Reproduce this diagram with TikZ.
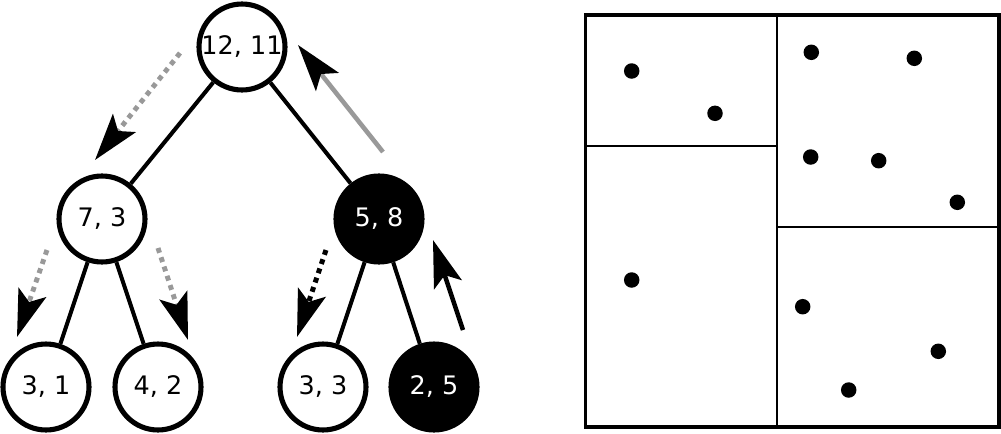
\documentclass[tikz,border=0pt]{standalone}
\usepackage{fontspec}
\setmainfont{DejaVu Sans}
\usetikzlibrary{arrows.meta}
\definecolor{trailgray}{HTML}{999999}
\begin{document}
\begin{tikzpicture}[x=0.02cm,y=-0.02cm,
  key/.style={circle,draw,line width=2.9pt,minimum size=1.72cm,inner sep=0pt,
    fill=white,font=\fontsize{14.5}{16}\selectfont},
  hot/.style={key,fill=black,text=white},
  edge/.style={line width=2.3pt},
  head/.style={-{Stealth[length=0.94cm,width=0.58cm,inset=0.2cm,color=black]}},
  walkdown/.style={head,line width=2.8pt,dash pattern=on 0.1cm off 0.095cm},
  walkup/.style={head,line width=2.6pt},
  dot/.style={circle,fill=black,inner sep=0pt,minimum size=0.31cm},
  cell/.style={line width=1.2pt}]
\useasboundingbox (0,0) rectangle (1001,433);

% tree of (count, sum) pairs
\node[key] (r)   at (242,47)  {12, 11};
\node[key] (l)   at (102,219) {7, 3};
\node[hot] (rt)  at (379,219) {5, 8};
\node[key] (ll)  at (46,387)  {3, 1};
\node[key] (lr)  at (158,387) {4, 2};
\node[key] (rl)  at (323,387) {3, 3};
\node[hot] (rr)  at (434,387) {2, 5};

\draw[edge] (r) -- (l);
\draw[edge] (r) -- (rt);
\draw[edge] (l) -- (ll);
\draw[edge] (l) -- (lr);
\draw[edge] (rt) -- (rl);
\draw[edge] (rt) -- (rr);

% traversal arrows
\coordinate (a1s) at (180,53);  \coordinate (a1e) at (95,160);
\coordinate (a2s) at (383,152); \coordinate (a2e) at (298,45);
\coordinate (a3s) at (47,250);  \coordinate (a3e) at (17,337);
\coordinate (a4s) at (158,248); \coordinate (a4e) at (188,340);
\coordinate (a5s) at (326,250); \coordinate (a5e) at (297,337);
\coordinate (a6s) at (463,330); \coordinate (a6e) at (433,240);

\draw[walkdown,trailgray] (a1s) -- (a1e);
\draw[walkup,trailgray]   (a2s) -- (a2e);
\draw[walkdown,trailgray] (a3s) -- (a3e);
\draw[walkdown,trailgray] (a4s) -- (a4e);
\draw[walkdown,black]     (a5s) -- (a5e);
\draw[walkup,black]       (a6s) -- (a6e);

% spatial partition with points
\coordinate (bl) at (585.5,15);
\coordinate (br) at (999,427);
\draw[cell] (777,15) -- (777,427);
\draw[cell] (585.5,146) -- (777,146);
\draw[cell] (777,227) -- (999,227);
\draw[line width=2.2pt] (bl) rectangle (br);

\foreach \p/\q in {631.7/71, 715/113.3, 811.3/52.3, 914.3/58.3, 810.7/157,
  878.7/160.7, 957.3/202.3, 631.7/280, 802.7/306.7, 938.3/351.3, 848.7/390}
  \node[dot] at (\p,\q) {};
\end{tikzpicture}
\end{document}
